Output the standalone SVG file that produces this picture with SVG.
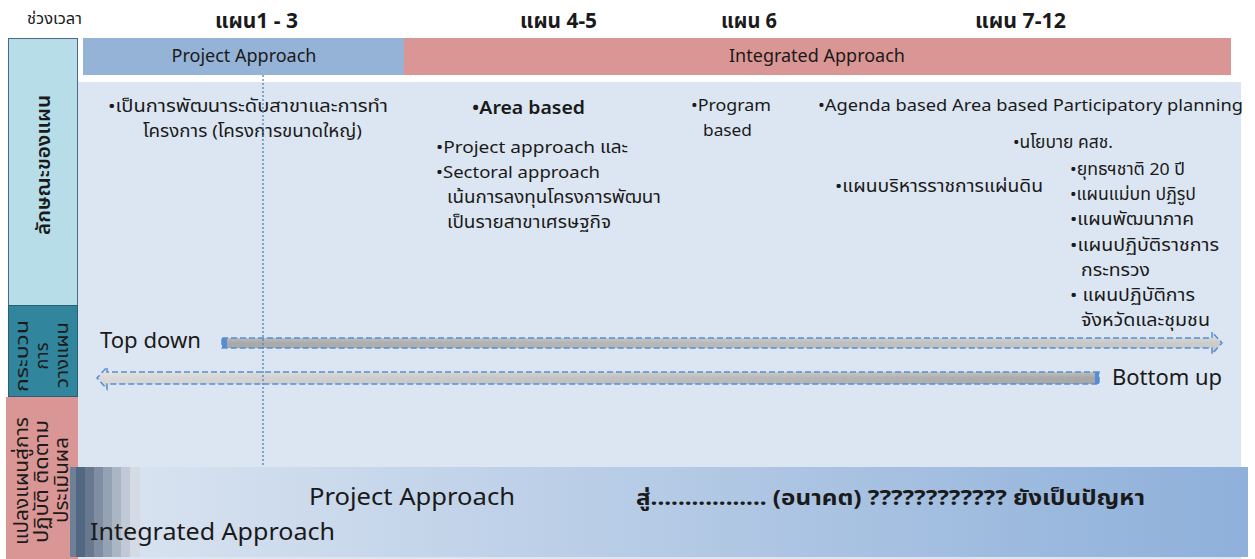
<svg xmlns="http://www.w3.org/2000/svg" width="1255" height="559" viewBox="0 0 1255 559">
<defs>
<style>
.t{font-family:"Noto Sans","Noto Sans Thai","Open Sans","DejaVu Sans",sans-serif;fill:#1a1a1a}
.b{font-size:17px}
.h{font-size:22px;font-weight:bold}
.band{font-size:18px}
.arrow{stroke:#558ED5;stroke-width:1.5;stroke-dasharray:6 3}
</style>
<linearGradient id="gTD" x1="0" y1="0" x2="1" y2="0">
<stop offset="0" stop-color="#A8A8A8"/><stop offset="1" stop-color="#CCCCCC"/>
</linearGradient>
<linearGradient id="gBU" x1="0" y1="0" x2="1" y2="0">
<stop offset="0" stop-color="#DADADA"/><stop offset="0.4" stop-color="#C6C6C6"/><stop offset="1" stop-color="#A6A6A6"/>
</linearGradient>
<linearGradient id="gShade" x1="0" y1="0" x2="0" y2="1">
<stop offset="0" stop-color="#fff" stop-opacity="0.5"/><stop offset="0.5" stop-color="#fff" stop-opacity="0"/><stop offset="1" stop-color="#000" stop-opacity="0.08"/>
</linearGradient>
<linearGradient id="gBand" x1="0" y1="0" x2="1" y2="0">
<stop offset="0" stop-color="#DCE5F1"/><stop offset="1" stop-color="#8EB0DA"/>
</linearGradient>
</defs>

<g id="background">
<rect x="0" y="0" width="1255" height="559" fill="#ffffff"/>
<rect x="78" y="82" width="1163" height="477" fill="#DCE6F2"/>
</g>

<g id="header">
<text class="t" x="27" y="24" font-size="15" textLength="55" lengthAdjust="spacingAndGlyphs">ช่วงเวลา</text>
<text class="t h" x="215" y="28" textLength="83" lengthAdjust="spacingAndGlyphs">แผน1 - 3</text>
<text class="t h" x="520" y="28" textLength="77" lengthAdjust="spacingAndGlyphs">แผน 4-5</text>
<text class="t h" x="721" y="28" textLength="56" lengthAdjust="spacingAndGlyphs">แผน 6</text>
<text class="t h" x="975" y="28" textLength="91" lengthAdjust="spacingAndGlyphs">แผน 7-12</text>
</g>

<g id="project-approach-band">
<rect x="83" y="38" width="321" height="37" fill="#95B3D7"/>
<text class="t band" x="244" y="62" text-anchor="middle">Project Approach</text>
</g>

<g id="integrated-approach-band">
<rect x="404" y="38" width="827" height="37" fill="#DA9694"/>
<text class="t band" x="817" y="62" text-anchor="middle">Integrated Approach</text>
</g>

<g id="label-characteristics">
<rect x="8.5" y="38.5" width="69" height="267" fill="#B7DEE8" stroke="#4A6A8C" stroke-width="1"/>
<text class="t" font-size="19" font-weight="600" transform="translate(50,235) rotate(-90)" textLength="140" lengthAdjust="spacingAndGlyphs">ลักษณะของแผน</text>
</g>

<g id="label-process">
<rect x="8.5" y="305.5" width="69" height="91" fill="#31859C" stroke="#2A5E70" stroke-width="1"/>
<text class="t" font-size="18" transform="translate(28,392) rotate(-90)" textLength="72" lengthAdjust="spacingAndGlyphs">กระบวน</text>
<text class="t" font-size="18" transform="translate(48,356) rotate(-90)" text-anchor="middle">การ</text>
<text class="t" font-size="18" transform="translate(68,388) rotate(-90)" textLength="66" lengthAdjust="spacingAndGlyphs">วางแผน</text>
</g>

<g id="label-implementation">
<rect x="6" y="397" width="72" height="162" fill="#DA9694"/>
<text class="t" font-size="19" transform="translate(28,545) rotate(-90)" textLength="128" lengthAdjust="spacingAndGlyphs">แปลงแผนสู่การ</text>
<text class="t" font-size="19" transform="translate(48,543) rotate(-90)" textLength="123" lengthAdjust="spacingAndGlyphs">ปฏิบัติ  ติดตาม</text>
<text class="t" font-size="19" transform="translate(68,523) rotate(-90)" textLength="86" lengthAdjust="spacingAndGlyphs">ประเมินผล</text>
</g>

<g id="plan1-3">
<text class="t b" x="108" y="112" textLength="280" lengthAdjust="spacingAndGlyphs">•เป็นการพัฒนาระดับสาขาและการทำ</text>
<text class="t b" x="143" y="137" textLength="219" lengthAdjust="spacingAndGlyphs">โครงการ (โครงการขนาดใหญ่)</text>
</g>

<g id="plan4-5">
<text class="t" x="472" y="114" font-size="18" font-weight="600" textLength="113" lengthAdjust="spacingAndGlyphs">•Area based</text>
<text class="t b" x="436" y="153" textLength="192" lengthAdjust="spacingAndGlyphs">•Project approach และ</text>
<text class="t b" x="436" y="178" textLength="164" lengthAdjust="spacingAndGlyphs">•Sectoral approach</text>
<text class="t b" x="447" y="203" textLength="214" lengthAdjust="spacingAndGlyphs">เน้นการลงทุนโครงการพัฒนา</text>
<text class="t b" x="447" y="228" textLength="164" lengthAdjust="spacingAndGlyphs">เป็นรายสาขาเศรษฐกิจ</text>
</g>

<g id="plan6">
<text class="t b" x="691" y="111" textLength="80" lengthAdjust="spacingAndGlyphs">•Program</text>
<text class="t b" x="703" y="136" textLength="49" lengthAdjust="spacingAndGlyphs">based</text>
</g>

<g id="plan7-12">
<text class="t b" x="818" y="111" textLength="425" lengthAdjust="spacingAndGlyphs">•Agenda based Area based  Participatory planning</text>
<text class="t b" x="1013" y="148" textLength="100" lengthAdjust="spacingAndGlyphs">•นโยบาย คสช.</text>
<text class="t b" x="835" y="192" textLength="208" lengthAdjust="spacingAndGlyphs">•แผนบริหารราชการแผ่นดิน</text>
<text class="t b" x="1070" y="175" textLength="115" lengthAdjust="spacingAndGlyphs">•ยุทธฯชาติ 20 ปี</text>
<text class="t b" x="1070" y="200" textLength="126" lengthAdjust="spacingAndGlyphs">•แผนแม่บท ปฏิรูป</text>
<text class="t b" x="1070" y="225" textLength="124" lengthAdjust="spacingAndGlyphs">•แผนพัฒนาภาค</text>
<text class="t b" x="1070" y="251" textLength="149" lengthAdjust="spacingAndGlyphs">•แผนปฏิบัติราชการ</text>
<text class="t b" x="1081" y="276" textLength="69" lengthAdjust="spacingAndGlyphs">กระทรวง</text>
<text class="t b" x="1070" y="301" textLength="125" lengthAdjust="spacingAndGlyphs">•  แผนปฏิบัติการ</text>
<text class="t b" x="1081" y="326" textLength="129" lengthAdjust="spacingAndGlyphs">จังหวัดและชุมชน</text>
</g>

<g id="top-down-label">
<text class="t" x="100" y="348" font-size="21" textLength="101" lengthAdjust="spacingAndGlyphs">Top down</text>
</g>
<g id="bottom-up-label">
<text class="t" x="1112" y="385" font-size="21" textLength="110" lengthAdjust="spacingAndGlyphs">Bottom up</text>
</g>

<g id="connectors">
<g id="arrow-top-down">
<path d="M222,338 H1212 V332 L1222,343 L1212,354 V348 H222 Z" fill="url(#gTD)"/>
<path d="M222,338 H1212 V332 L1222,343 L1212,354 V348 H222 Z" fill="url(#gShade)" class="arrow"/>
<rect x="222" y="338" width="5" height="10" fill="#558ED5"/>
</g>
<g id="arrow-bottom-up">
<path d="M1099,372 H107 V367 L97,378 L107,389 V384 H1099 Z" fill="url(#gBU)"/>
<path d="M1099,372 H107 V367 L97,378 L107,389 V384 H1099 Z" fill="url(#gShade)" class="arrow"/>
<rect x="1095" y="372" width="4" height="12" fill="#558ED5"/>
</g>
</g>

<g id="timeline-divider">
<line x1="263" y1="75" x2="263" y2="559" stroke="#4F81BD" stroke-width="1.3" stroke-dasharray="2 2"/>
</g>

<g id="bottom-band">
<rect x="70" y="467" width="1178" height="90" fill="url(#gBand)"/>
<rect x="70" y="467" width="6" height="90" fill="#6E8097"/>
<rect x="76" y="467" width="9" height="90" fill="#526782"/>
<rect x="85" y="467" width="9" height="90" fill="#68798F"/>
<rect x="94" y="467" width="9" height="90" fill="#7E8DA2"/>
<rect x="103" y="467" width="9" height="90" fill="#95A2B4"/>
<rect x="112" y="467" width="9" height="90" fill="#ABB6C5"/>
<rect x="121" y="467" width="9" height="90" fill="#C0C9D5"/>
<rect x="130" y="467" width="10" height="90" fill="#D4DBE5"/>
<text class="t" x="309" y="505" font-size="23" textLength="206" lengthAdjust="spacingAndGlyphs">Project Approach</text>
<text class="t" x="636" y="505" font-size="21" font-weight="bold" textLength="509" lengthAdjust="spacingAndGlyphs">สู่................. (อนาคต) ???????????? ยังเป็นปัญหา</text>
<text class="t" x="90" y="540" font-size="23" textLength="245" lengthAdjust="spacingAndGlyphs">Integrated Approach</text>
</g>
</svg>
